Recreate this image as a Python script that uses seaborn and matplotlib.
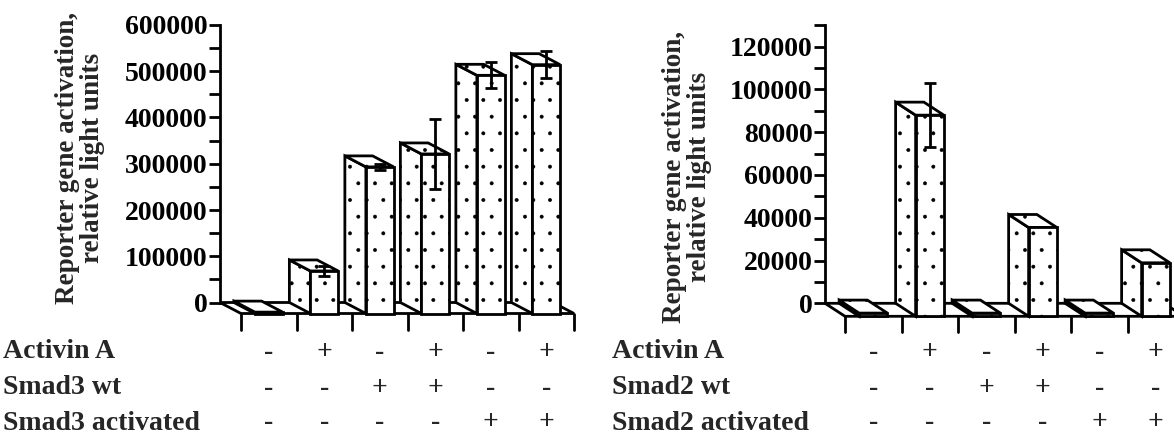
import numpy as np
import pandas as pd
import matplotlib
matplotlib.use("Agg")
import matplotlib.pyplot as plt
import matplotlib.transforms as mtransforms
from matplotlib.patches import Polygon
import seaborn as sns

# ---------------- data ----------------
conditions = ["c1", "c2", "c3", "c4", "c5", "c6"]
activin = ["-", "+", "-", "+", "-", "+"]
smad_wt = ["-", "-", "+", "+", "-", "-"]
smad_act = ["-", "-", "-", "-", "+", "+"]

smad3_values = [3000, 92000, 317000, 345000, 515000, 538000]
smad3_errors = [0, 11000, 6000, 75000, 28000, 29000]
smad3_ticks = [0, 100000, 200000, 300000, 400000, 500000, 600000]
smad3_minor = [50000, 150000, 250000, 350000, 450000, 550000]
smad3_rows = ["Activin A", "Smad3 wt", "Smad3 activated"]

smad2_values = [1500, 94000, 1500, 41500, 1500, 25000]
smad2_errors = [0, 15000, 0, 0, 0, 0]
smad2_ticks = [0, 20000, 40000, 60000, 80000, 100000, 120000]
smad2_minor = [10000, 30000, 50000, 70000, 90000, 110000, 130000]
smad2_rows = ["Activin A", "Smad2 wt", "Smad2 activated"]

ylabel_text = "Reporter gene activation,\nrelative light units"

# ---------------- style ----------------
sns.set_theme(style="white")
plt.rcParams["font.family"] = ["Liberation Serif", "DejaVu Serif"]
plt.rcParams["font.weight"] = "bold"
plt.rcParams["hatch.linewidth"] = 0.35

W, H = 1174, 437
fig = plt.figure(figsize=(W / 100, H / 100), dpi=100)
fig.patch.set_facecolor("white")

LW = 2.0
HATCH = "."


def panel(left_px, zero_px, top_px, ymax, cw, dxp, dyp, values, errors,
          ticks, minor, rows, row_x_px, ylab_xy):
    bottom_px = 345
    wp = 380
    ppu = (zero_px - top_px) / ymax
    ymin = -(bottom_px - zero_px) / ppu
    ax = fig.add_axes([left_px / W, (H - bottom_px) / H, wp / W,
                       (bottom_px - top_px) / H])
    dxd = dxp / cw
    dyd = dyp / ppu

    df = pd.DataFrame({"cond": conditions, "value": values})
    sns.barplot(data=df, x="cond", y="value", ax=ax, color="white",
                saturation=1, width=0.5, edgecolor="black", linewidth=LW,
                errorbar=None)
    bars = list(ax.patches)
    for p in bars:
        x0, w, v = p.get_x(), p.get_width(), p.get_height()
        x1 = x0 + w
        side = Polygon([(x0, 0), (x0 + dxd, -dyd), (x0 + dxd, v - dyd), (x0, v)],
                       closed=True, facecolor="white", edgecolor="black",
                       linewidth=LW, hatch=HATCH, zorder=2.5, joinstyle="miter")
        top = Polygon([(x0, v), (x1, v), (x1 + dxd, v - dyd), (x0 + dxd, v - dyd)],
                      closed=True, facecolor="white", edgecolor="black",
                      linewidth=LW, hatch=HATCH, zorder=2.5, joinstyle="miter")
        ax.add_patch(side)
        ax.add_patch(top)
        p.set_x(x0 + dxd)
        p.set_y(-dyd)
        p.set_hatch(HATCH)
        p.set_zorder(3)

    n = len(values)
    floor = Polygon([(-0.5, 0), (n - 0.5, 0), (n - 0.5 + dxd, -dyd),
                     (-0.5 + dxd, -dyd)], closed=True, facecolor="white",
                    edgecolor="black", linewidth=LW, zorder=1, clip_on=False)
    ax.add_patch(floor)
    for k in range(n + 1):
        ax.plot([-0.5 + k + dxd] * 2, [-dyd, -dyd - 16 / ppu], color="black",
                lw=LW, clip_on=False, zorder=1)

    vals = np.array(values, dtype=float)
    errs = np.array(errors, dtype=float)
    m = errs > 0
    ax.errorbar(np.arange(n)[m] + dxd, vals[m] - dyd, yerr=errs[m], fmt="none",
                ecolor="black", elinewidth=LW, capsize=4.5, capthick=LW, zorder=4)

    ax.set_xlim(-0.5, -0.5 + wp / cw)
    ax.set_ylim(ymin, ymax)
    ax.set_xticks([])
    ax.set_xlabel("")
    ax.set_ylabel("")
    ax.set_yticks(ticks)
    ax.set_yticklabels([str(t) for t in ticks], fontsize=20, fontweight="bold")
    ax.set_yticks(minor, minor=True)
    ax.tick_params(axis="y", which="both", left=True, direction="out",
                   length=8, width=LW, pad=1, colors="black")
    for s in ["top", "right", "bottom"]:
        ax.spines[s].set_visible(False)
    ax.spines["left"].set_bounds(0, ymax)
    ax.spines["left"].set_linewidth(LW)
    ax.spines["left"].set_color("black")
    ax.patch.set_alpha(0)

    tr = mtransforms.blended_transform_factory(ax.transData, fig.transFigure)
    row_y = [352, 388, 423]
    for name, signs, ypx in zip(rows, [activin, smad_wt, smad_act], row_y):
        fig.text(row_x_px / W, 1 - ypx / H, name, ha="left", va="center",
                 fontsize=20, fontweight="bold")
        for k, s in enumerate(signs):
            ax.text(k + dxd, 1 - ypx / H, s, transform=tr, ha="center",
                    va="center", fontsize=20, fontweight="bold", clip_on=False)

    fig.text(ylab_xy[0] / W, 1 - ylab_xy[1] / H, ylabel_text, rotation=90,
             ha="center", va="center", fontsize=19.5, fontweight="bold",
             linespacing=1.0, multialignment="center")
    return ax


panel(220, 302.5, 25, 600000, 55.5, 21, 11, smad3_values, smad3_errors,
      smad3_ticks, smad3_minor, smad3_rows, 3, (80, 158))
panel(825, 303.3, 25.1, 130000, 56.5, 20, 13, smad2_values, smad2_errors,
      smad2_ticks, smad2_minor, smad2_rows, 612, (687, 177))

fig.savefig("out.png", dpi=100, facecolor="white")
